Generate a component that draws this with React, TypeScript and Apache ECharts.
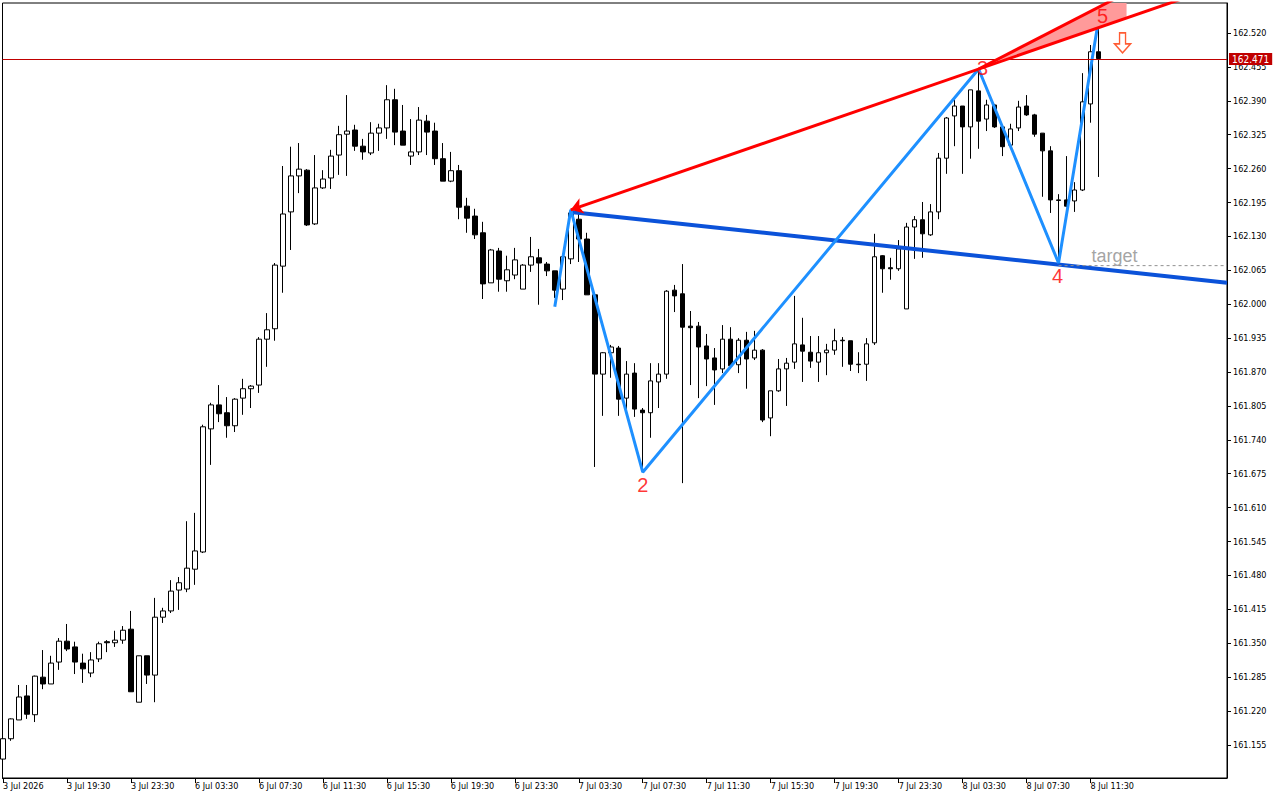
import React, { useEffect, useRef } from "react";
import * as echarts from "echarts";

// ---- axis ticks ----
const xTickBars = [0, 8, 16, 24, 32, 40, 48, 56, 64, 72, 80, 88, 96, 104, 112, 120, 128, 136];
const xTickLabels = [
  "3 Jul 2026", "3 Jul 19:30", "3 Jul 23:30", "6 Jul 03:30", "6 Jul 07:30", "6 Jul 11:30",
  "6 Jul 15:30", "6 Jul 19:30", "6 Jul 23:30", "7 Jul 03:30", "7 Jul 07:30", "7 Jul 11:30",
  "7 Jul 15:30", "7 Jul 19:30", "7 Jul 23:30", "8 Jul 03:30", "8 Jul 07:30", "8 Jul 11:30",
];
const yTickValues = [
  162.52, 162.455, 162.39, 162.325, 162.26, 162.195, 162.13, 162.065, 162.0, 161.935, 161.87,
  161.805, 161.74, 161.675, 161.61, 161.545, 161.48, 161.415, 161.35, 161.285, 161.22, 161.155,
];
const yMin = 161.0917;
const yMax = 162.5775;
const xMin = -0.0625;
const xMax = 153.0625;

// ---- M30 bars ----
const opens = [
  161.128, 161.167, 161.203, 161.249, 161.213, 161.285, 161.272, 161.314, 161.354, 161.343,
  161.312, 161.293, 161.320, 161.353, 161.351, 161.356, 161.377, 161.237, 161.326, 161.289,
  161.400, 161.412, 161.452, 161.454, 161.492, 161.525, 161.761, 161.807, 161.792, 161.767,
  161.820, 161.838, 161.845, 161.933, 161.953, 162.073, 162.177, 162.246, 162.257, 162.154,
  162.223, 162.242, 162.286, 162.326, 162.334, 162.303, 162.290, 162.328, 162.338, 162.392,
  162.332, 162.284, 162.292, 162.351, 162.332, 162.279, 162.236, 162.256, 162.188, 162.169,
  162.137, 162.041, 162.102, 162.045, 162.056, 162.029, 162.075, 162.089, 162.077, 162.064,
  162.029, 162.087, 162.163, 162.125, 162.018, 161.866, 161.907, 161.916, 161.820, 161.868,
  161.797, 161.792, 161.851, 161.866, 162.027, 162.020, 161.958, 161.958, 161.920, 161.897,
  161.876, 161.933, 161.884, 161.931, 161.897, 161.912, 161.782, 161.834, 161.876, 161.889,
  161.922, 161.908, 161.889, 161.907, 161.912, 161.931, 161.930, 161.885, 161.885, 161.926,
  162.093, 162.070, 162.068, 161.991, 162.148, 162.162, 162.133, 162.177, 162.280, 162.361,
  162.380, 162.340, 162.409, 162.355, 162.382, 162.340, 162.305, 162.338, 162.380, 162.363,
  162.328, 162.294, 162.200, 162.200, 162.198, 162.219, 162.384, 162.484,
];
const closes = [
  161.167, 161.205, 161.247, 161.214, 161.287, 161.272, 161.312, 161.354, 161.339, 161.314,
  161.301, 161.318, 161.349, 161.351, 161.356, 161.375, 161.257, 161.326, 161.289, 161.400,
  161.412, 161.450, 161.466, 161.494, 161.527, 161.765, 161.807, 161.790, 161.767, 161.818,
  161.838, 161.843, 161.933, 161.951, 162.075, 162.173, 162.246, 162.259, 162.152, 162.223,
  162.240, 162.284, 162.325, 162.332, 162.303, 162.292, 162.328, 162.338, 162.392, 162.330,
  162.305, 162.292, 162.353, 162.330, 162.279, 162.236, 162.256, 162.186, 162.165, 162.133,
  162.039, 162.104, 162.048, 162.066, 162.085, 162.075, 162.091, 162.079, 162.064, 162.027,
  162.091, 162.175, 162.125, 162.018, 161.866, 161.907, 161.918, 161.818, 161.866, 161.799,
  161.792, 161.853, 161.866, 162.025, 162.016, 161.956, 161.955, 161.918, 161.895, 161.874,
  161.933, 161.882, 161.931, 161.895, 161.912, 161.778, 161.834, 161.876, 161.887, 161.924,
  161.910, 161.891, 161.907, 161.912, 161.930, 161.930, 161.885, 161.884, 161.924, 162.091,
  162.068, 162.068, 162.106, 162.148, 162.162, 162.135, 162.177, 162.280, 162.357, 162.380,
  162.340, 162.411, 162.351, 162.382, 162.340, 162.302, 162.336, 162.378, 162.363, 162.326,
  162.294, 162.200, 162.199, 162.188, 162.219, 162.388, 162.484, 162.471,
];
const lows = [
  161.111, 161.163, 161.203, 161.205, 161.199, 161.262, 161.272, 161.299, 161.335, 161.291,
  161.274, 161.285, 161.314, 161.333, 161.343, 161.349, 161.257, 161.237, 161.272, 161.237,
  161.389, 161.408, 161.414, 161.448, 161.462, 161.523, 161.692, 161.774, 161.744, 161.755,
  161.788, 161.801, 161.830, 161.880, 161.930, 162.022, 162.104, 162.213, 162.150, 162.152,
  162.221, 162.221, 162.248, 162.246, 162.294, 162.277, 162.286, 162.294, 162.317, 162.305,
  162.305, 162.267, 162.286, 162.286, 162.267, 162.236, 162.234, 162.163, 162.137, 162.125,
  162.010, 162.041, 162.024, 162.024, 162.048, 162.029, 162.062, 161.999, 162.054, 162.012,
  162.008, 162.077, 162.081, 162.018, 161.688, 161.786, 161.859, 161.786, 161.786, 161.784,
  161.678, 161.744, 161.801, 161.857, 161.985, 161.657, 161.845, 161.820, 161.843, 161.807,
  161.868, 161.878, 161.868, 161.838, 161.893, 161.774, 161.747, 161.832, 161.805, 161.876,
  161.851, 161.878, 161.851, 161.864, 161.903, 161.880, 161.872, 161.868, 161.853, 161.922,
  162.022, 162.047, 162.064, 161.991, 162.087, 162.089, 162.131, 162.163, 162.250, 162.303,
  162.250, 162.279, 162.298, 162.332, 162.338, 162.284, 162.303, 162.332, 162.361, 162.321,
  162.206, 162.175, 162.079, 162.186, 162.177, 162.217, 162.348, 162.244,
];
const highs = [
  161.168, 161.206, 161.270, 161.270, 161.288, 161.337, 161.326, 161.360, 161.387, 161.353,
  161.330, 161.333, 161.353, 161.356, 161.374, 161.383, 161.412, 161.326, 161.326, 161.437,
  161.418, 161.471, 161.477, 161.584, 161.600, 161.769, 161.811, 161.845, 161.822, 161.820,
  161.857, 161.845, 161.937, 161.983, 162.079, 162.265, 162.302, 162.309, 162.259, 162.286,
  162.257, 162.296, 162.342, 162.401, 162.344, 162.317, 162.349, 162.346, 162.420, 162.413,
  162.382, 162.355, 162.378, 162.363, 162.348, 162.309, 162.292, 162.267, 162.204, 162.183,
  162.158, 162.106, 162.108, 162.093, 162.108, 162.077, 162.129, 162.106, 162.081, 162.064,
  162.094, 162.181, 162.175, 162.137, 162.022, 161.908, 161.922, 161.920, 161.891, 161.887,
  161.801, 161.887, 161.887, 162.027, 162.037, 162.077, 161.987, 161.966, 161.943, 161.916,
  161.960, 161.956, 161.935, 161.947, 161.949, 161.914, 161.834, 161.895, 161.897, 162.016,
  161.974, 161.939, 161.939, 161.924, 161.953, 161.937, 161.930, 161.908, 161.935, 162.135,
  162.094, 162.089, 162.123, 162.156, 162.169, 162.196, 162.192, 162.290, 162.359, 162.397,
  162.380, 162.411, 162.451, 162.392, 162.384, 162.342, 162.346, 162.390, 162.401, 162.365,
  162.328, 162.303, 162.211, 162.284, 162.234, 162.443, 162.497, 162.545,
];
const currentPrice = 162.471;

// ---- pattern ----
const zigzagBars = [69, 71, 80, 122, 132, 137];
const zigzagPrices = [161.995, 162.181, 161.678, 162.451, 162.079, 162.545];
const pointLabels = ["2", "3", "4", "5"];
const pointLabelBars = [80, 122, 132, 137];
const pointLabelPrices = [161.678, 162.451, 162.079, 162.545];

const baseLineBars = [71, 153.0625];
const baseLinePrices = [162.177, 162.041];
const redArrowBars = [71, 150];
const redArrowPrices = [162.181, 162.599];
const redUpperBars = [122, 140.5];
const redUpperPrices = [162.451, 162.597];
const wedgeBars = [122, 140.5, 140.5];
const wedgePrices = [162.451, 162.597, 162.549];
const targetPrice = 162.074;
const targetBars = [132, 153.0625];
const targetLabelBar = 139;
const signalBar = 140;
const signalPrice = 162.501;

const AXIS_FONT = "'DejaVu Sans Condensed', 'DejaVu Sans', sans-serif";
const TEXT_FONT = "'Liberation Sans', Arial, sans-serif";

export default function App() {
  const ref = useRef<HTMLDivElement>(null);

  useEffect(() => {
    document.body.style.margin = "0";
    const chart = echarts.init(ref.current as HTMLDivElement, null, { renderer: "svg" });

    const candleData = opens.map((o, i) => [i, o, closes[i], lows[i], highs[i]]);
    const zigzag = zigzagBars.map((b, i) => [b, zigzagPrices[i]]);
    const pair = (bs: number[], ps: number[]) => bs.map((b, i) => [b, ps[i]]);

    const labelOffsets: Record<string, number[]> = {
      "2": [0, 13],
      "3": [4, -1],
      "4": [-1, 13],
      "5": [4, -4],
    };

    const labelData: any[] = pointLabels.map((t, i) => ({
      value: [pointLabelBars[i], pointLabelPrices[i]],
      label: {
        show: true,
        formatter: t,
        position: "inside",
        offset: labelOffsets[t],
        color: "#ff0000",
        fontSize: 20,
        fontFamily: TEXT_FONT,
      },
    }));
    labelData.push({
      value: [targetLabelBar, targetPrice],
      label: {
        show: true,
        formatter: "target",
        position: "inside",
        offset: [0, -10],
        color: "#8c8c8c",
        fontSize: 18,
        fontFamily: TEXT_FONT,
      },
    });

    chart.setOption({
      animation: false,
      backgroundColor: "#ffffff",
      grid: {
        left: 2,
        top: 3,
        right: 53,
        bottom: 22,
        show: true,
        borderColor: "#000000",
        borderWidth: 1,
      },
      xAxis: {
        type: "value",
        min: xMin,
        max: xMax,
        axisLine: { show: true, onZero: false, lineStyle: { color: "#000", width: 1 } },
        axisTick: { show: true, customValues: xTickBars, length: 5, lineStyle: { color: "#000" } },
        axisLabel: {
          show: true,
          customValues: xTickBars,
          formatter: (v: number) => {
            const k = xTickBars.indexOf(Math.round(v));
            return k >= 0 ? xTickLabels[k] : "";
          },
          align: "left",
          margin: 3,
          color: "#000",
          fontSize: 9,
          fontFamily: AXIS_FONT,
        },
        splitLine: { show: false },
      },
      yAxis: {
        type: "value",
        position: "right",
        min: yMin,
        max: yMax,
        axisLine: { show: true, onZero: false, lineStyle: { color: "#000", width: 1 } },
        axisTick: { show: true, customValues: yTickValues, length: 4, lineStyle: { color: "#000" } },
        axisLabel: {
          show: true,
          customValues: yTickValues,
          formatter: (v: number) => v.toFixed(3),
          margin: 6,
          color: "#000",
          fontSize: 9,
          fontFamily: AXIS_FONT,
        },
        splitLine: { show: false },
      },
      series: [
        {
          type: "candlestick",
          data: candleData,
          barWidth: 5,
          clip: true,
          itemStyle: {
            color: "#ffffff",
            color0: "#000000",
            borderColor: "#000000",
            borderColor0: "#000000",
            borderColorDoji: "#000000",
            borderWidth: 1,
          },
          markLine: {
            silent: true,
            symbol: ["none", "none"],
            data: [{ yAxis: currentPrice }],
            lineStyle: { color: "#c00000", width: 1, type: "solid" },
            label: {
              show: true,
              position: "end",
              distance: 2,
              formatter: currentPrice.toFixed(3),
              backgroundColor: "#c00000",
              color: "#ffffff",
              padding: [1, 3, 1, 3],
              fontSize: 10,
              fontFamily: AXIS_FONT,
            },
          },
          z: 2,
        },
        {
          type: "line",
          data: pair(baseLineBars, baseLinePrices),
          symbol: "none",
          clip: true,
          lineStyle: { color: "#0b52d9", width: 4 },
          z: 3,
        },
        {
          type: "line",
          data: pair(targetBars, [targetPrice, targetPrice]),
          symbol: "none",
          clip: true,
          lineStyle: { color: "#909090", width: 1, type: [3, 3] },
          z: 3,
        },
        {
          type: "line",
          data: zigzag,
          symbol: "none",
          clip: true,
          lineStyle: { color: "#1e90ff", width: 3 },
          z: 4,
        },
        {
          type: "custom",
          clip: true,
          silent: true,
          data: [[wedgeBars[0], wedgePrices[0]]],
          renderItem: (_params: any, api: any) => {
            const pts = wedgeBars.map((b, i) => api.coord([b, wedgePrices[i]]));
            return { type: "polygon", shape: { points: pts }, style: { fill: "#ff9a9a" } };
          },
          z: 5,
        },
        {
          type: "line",
          data: pair(redUpperBars, redUpperPrices),
          symbol: "none",
          clip: true,
          lineStyle: { color: "#ff0000", width: 3 },
          z: 6,
        },
        {
          type: "lines",
          coordinateSystem: "cartesian2d",
          clip: true,
          symbol: ["arrow", "none"],
          symbolSize: 12,
          data: [{ coords: pair(redArrowBars, redArrowPrices) }],
          lineStyle: { color: "#ff0000", width: 3, opacity: 1, curveness: 0 },
          z: 6,
        },
        {
          type: "scatter",
          silent: true,
          symbol: "path://M5,0 L11,0 L11,11 L16,11 L8,20 L0,11 L5,11 Z",
          symbolSize: [16, 20],
          data: [[signalBar, signalPrice]],
          itemStyle: { color: "#ffffff", borderColor: "#ff3300", borderWidth: 1.5 },
          z: 7,
        },
        {
          type: "scatter",
          silent: true,
          symbolSize: 1,
          itemStyle: { color: "rgba(0,0,0,0)" },
          data: labelData,
          z: 8,
        },
      ],
    });

    return () => {
      chart.dispose();
    };
  }, []);

  return (
    <div
      ref={ref}
      style={{ position: "fixed", left: 0, top: 0, width: 1280, height: 800, background: "#fff" }}
    />
  );
}
